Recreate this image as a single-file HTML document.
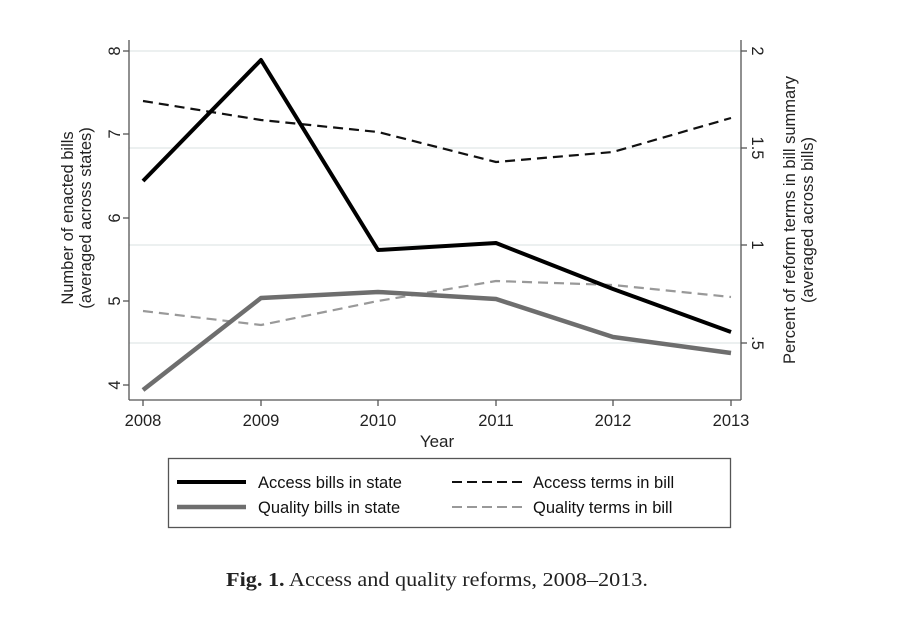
<!DOCTYPE html>
<html><head><meta charset="utf-8"><style>
body{margin:0;background:#fff;}
svg text{font-family:"Liberation Sans",sans-serif;}
</style></head><body>
<svg width="899" height="633" xmlns="http://www.w3.org/2000/svg">
<rect width="899" height="633" fill="#fff"/>
<g stroke="#e6ecec" stroke-width="1.5">
<line x1="129" y1="51" x2="741" y2="51"/>
<line x1="129" y1="148" x2="741" y2="148"/>
<line x1="129" y1="245" x2="741" y2="245"/>
<line x1="129" y1="343" x2="741" y2="343"/>
</g>
<g stroke="#555" stroke-width="1.3" fill="none">
<line x1="129" y1="40" x2="129" y2="400"/>
<line x1="741" y1="40" x2="741" y2="400"/>
<line x1="129" y1="400" x2="741" y2="400"/>
<line x1="123" y1="51" x2="129" y2="51"/><line x1="123" y1="134" x2="129" y2="134"/><line x1="123" y1="218" x2="129" y2="218"/><line x1="123" y1="301" x2="129" y2="301"/><line x1="123" y1="385" x2="129" y2="385"/>
<line x1="741" y1="51" x2="747" y2="51"/><line x1="741" y1="148" x2="747" y2="148"/><line x1="741" y1="245" x2="747" y2="245"/><line x1="741" y1="343" x2="747" y2="343"/>
<line x1="143" y1="400" x2="143" y2="406"/><line x1="261" y1="400" x2="261" y2="406"/><line x1="378" y1="400" x2="378" y2="406"/><line x1="496" y1="400" x2="496" y2="406"/><line x1="613" y1="400" x2="613" y2="406"/><line x1="731" y1="400" x2="731" y2="406"/>
</g>
<g font-size="16.5" fill="#222" text-anchor="middle">
<text x="143" y="426">2008</text><text x="261" y="426">2009</text><text x="378" y="426">2010</text><text x="496" y="426">2011</text><text x="613" y="426">2012</text><text x="731" y="426">2013</text>
<text x="437" y="447" font-size="17">Year</text>
<text transform="translate(120,51) rotate(-90)">8</text>
<text transform="translate(120,134) rotate(-90)">7</text>
<text transform="translate(120,218) rotate(-90)">6</text>
<text transform="translate(120,301) rotate(-90)">5</text>
<text transform="translate(120,385) rotate(-90)">4</text>
<text transform="translate(752,51) rotate(90)">2</text>
<text transform="translate(752,148) rotate(90)">1.5</text>
<text transform="translate(752,245) rotate(90)">1</text>
<text transform="translate(752,343) rotate(90)">.5</text>
<text transform="translate(73,218) rotate(-90)" font-size="16.5">Number of enacted bills</text>
<text transform="translate(91,218) rotate(-90)" font-size="16.5">(averaged across states)</text>
<text transform="translate(795,220) rotate(-90)" font-size="16.5">Percent of reform terms in bill summary</text>
<text transform="translate(813,220) rotate(-90)" font-size="16.5">(averaged across bills)</text>
</g>
<g fill="none" stroke-linejoin="round">
<polyline points="143,311 261,325 378,301 496,281 613,285 731,297" stroke="#999" stroke-width="2.2" stroke-dasharray="10,6"/>
<polyline points="143,101 261,120 378,132 496,162 613,152 731,118" stroke="#111" stroke-width="2.2" stroke-dasharray="10,6"/>
<polyline points="143,390 261,298 378,292 496,299 613,337 731,353" stroke="#6e6e6e" stroke-width="4.5"/>
<polyline points="143,181 261,60 378,250 496,243 613,289 731,332" stroke="#000" stroke-width="4"/>
</g>
<rect x="168.5" y="458.5" width="562" height="69" fill="none" stroke="#555" stroke-width="1.3"/>
<line x1="177" y1="482" x2="246" y2="482" stroke="#000" stroke-width="4"/>
<line x1="177" y1="507" x2="246" y2="507" stroke="#6e6e6e" stroke-width="4.5"/>
<line x1="452" y1="482" x2="522" y2="482" stroke="#111" stroke-width="2" stroke-dasharray="10,5"/>
<line x1="452" y1="507" x2="522" y2="507" stroke="#999" stroke-width="2" stroke-dasharray="10,5"/>
<g font-size="16.5" fill="#111">
<text x="258" y="488">Access bills in state</text>
<text x="258" y="513">Quality bills in state</text>
<text x="533" y="488">Access terms in bill</text>
<text x="533" y="513">Quality terms in bill</text>
</g>
<text x="226" y="586" textLength="422" lengthAdjust="spacingAndGlyphs" font-size="20" fill="#222" style="font-family:'Liberation Serif',serif"><tspan font-weight="bold">Fig. 1.</tspan>  Access and quality reforms, 2008–2013.</text>
</svg>
</body></html>
